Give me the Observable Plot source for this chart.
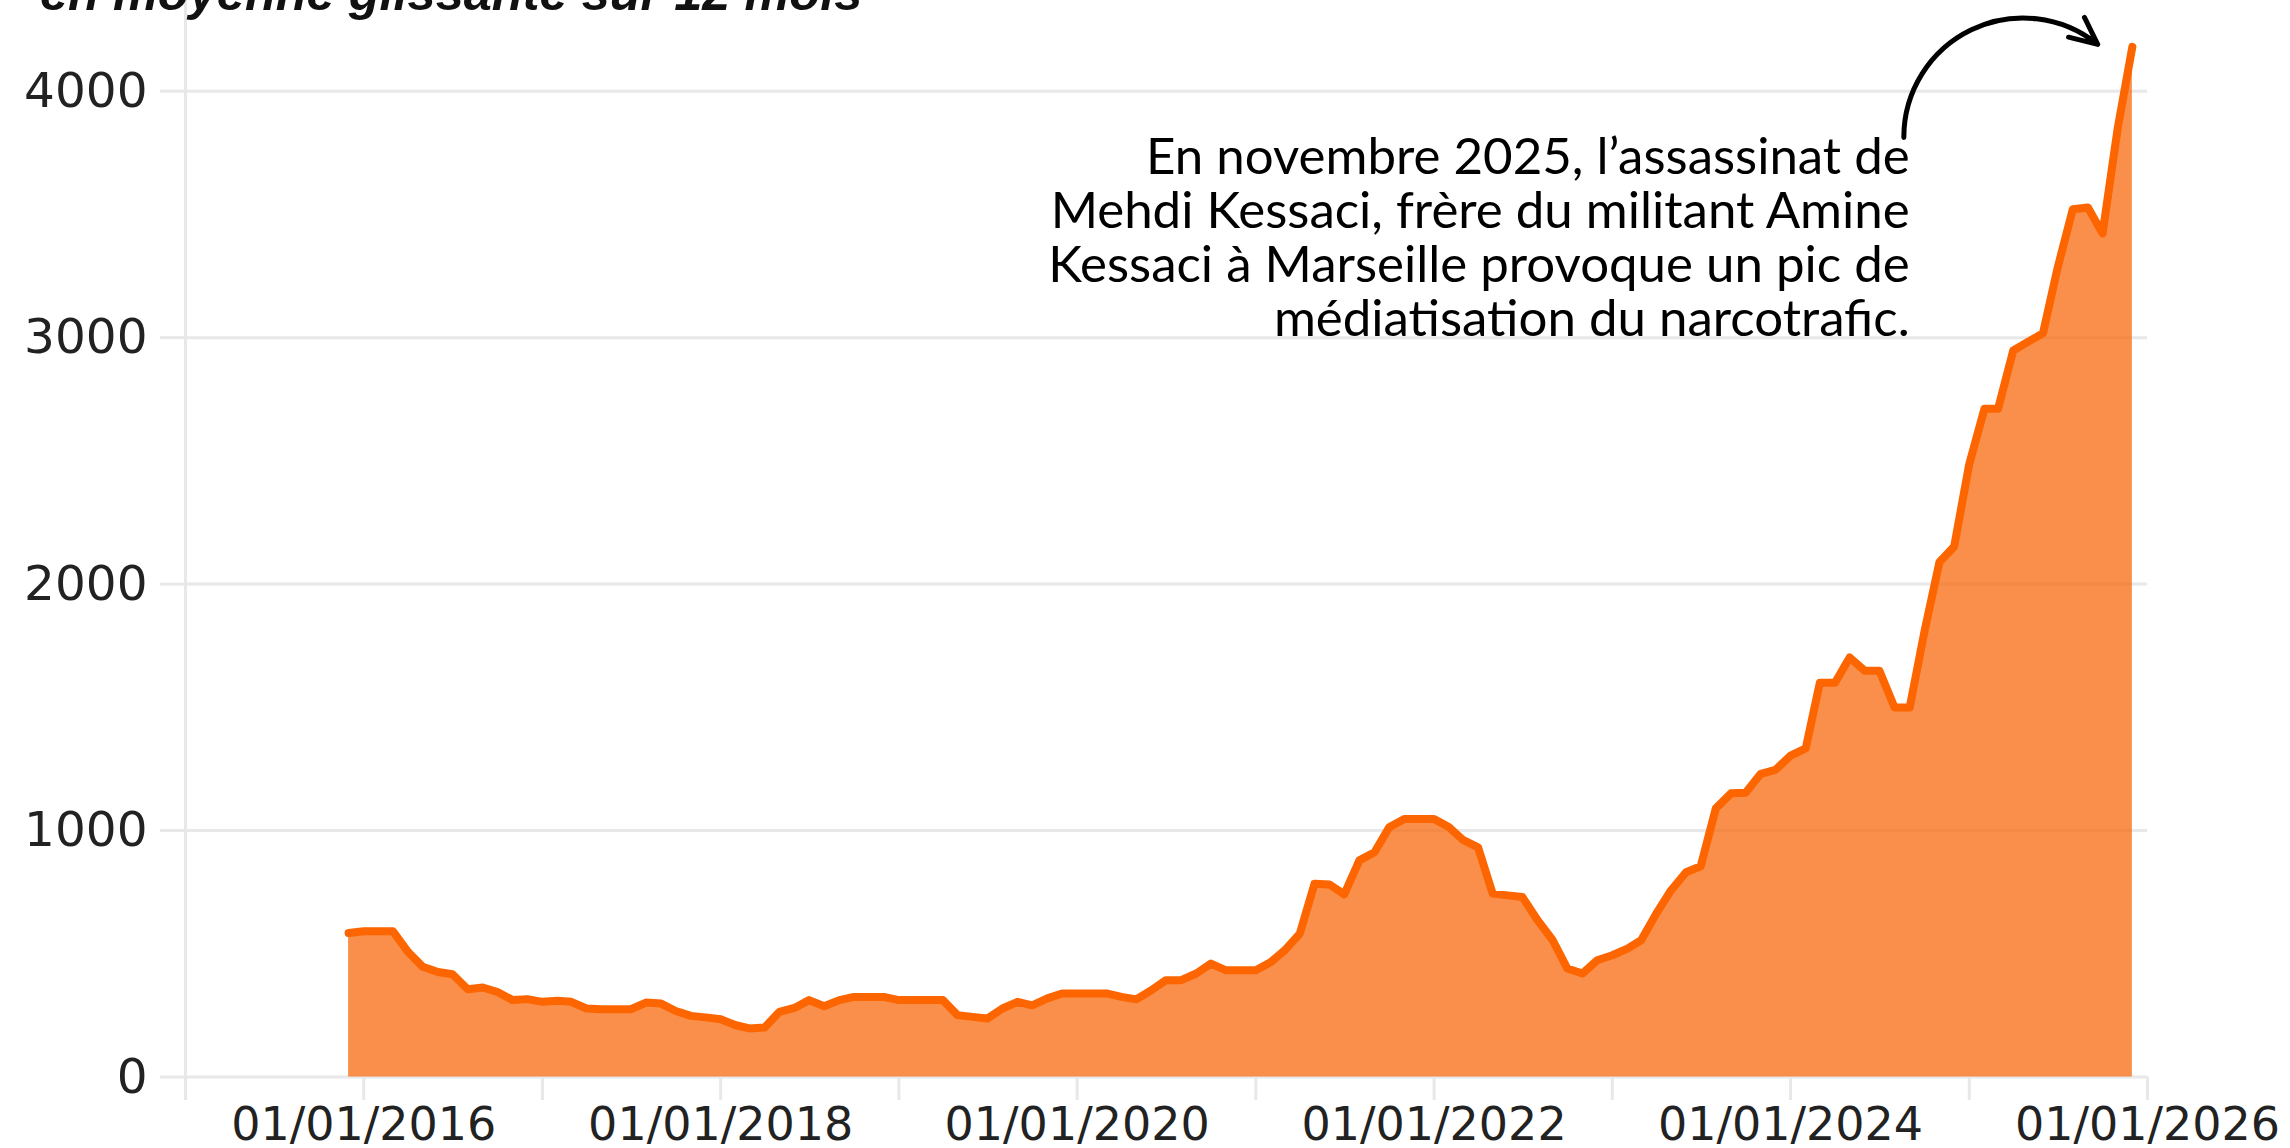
<!DOCTYPE html>
<html>
<head>
<meta charset="utf-8">
<script src="https://cdn.jsdelivr.net/npm/d3@7"></script>
<script src="https://cdn.jsdelivr.net/npm/@observablehq/plot@0.6"></script>
<style>
  html, body { margin: 0; padding: 0; background: #fff; }
  #wrap { position: relative; width: 2290px; height: 1148px; overflow: hidden; }
  #sub { position: absolute; left: 40px; top: -32px; font: italic bold 50.5px "Liberation Sans", Arial, sans-serif;
         line-height: 50px; color: #111; white-space: nowrap; }
  #chart { position: absolute; left: 0; top: 0; }
</style>
</head>
<body>
<div id="wrap">
  <div id="chart"></div>
  <div id="sub">en moyenne glissante sur 12 mois</div>
</div>
<script>
// ---- data (monthly, 12-month rolling average) ----
const firstMonth = "2015-12-01";
const values = [
  584,                                                     // 2015-12
  591, 591, 591, 507, 447, 426, 417, 356, 363, 345, 312, 316, // 2016
  305, 309, 305, 278, 275, 275, 275, 302, 298, 268, 248, 242, // 2017
  234, 210, 197, 201, 264, 280, 312, 287, 312, 325, 325, 325, // 2018
  312, 312, 312, 312, 251, 244, 237, 278, 305, 291, 319, 339, // 2019
  339, 339, 339, 325, 315, 352, 393, 393, 420, 460, 433, 433, // 2020
  433, 467, 514, 582, 784, 781, 741, 879, 912, 1013, 1047, 1047, // 2021
  1047, 1013, 962, 932, 744, 737, 730, 636, 555, 440, 420, 474, // 2022
  494, 521, 555, 663, 757, 831, 855, 1090, 1151, 1153, 1230, 1246, // 2023
  1304, 1333, 1600, 1600, 1702, 1648, 1648, 1499, 1499, 1806, 2090, 2152, // 2024
  2487, 2711, 2711, 2948, 2983, 3018, 3284, 3521, 3528, 3423, 3850, 4180  // 2025
];
const yTicks = [0, 1000, 2000, 3000, 4000];
const xTickYears = [2015, 2016, 2017, 2018, 2019, 2020, 2021, 2022, 2023, 2024, 2025, 2026];
const xLabelYears = [2016, 2018, 2020, 2022, 2024, 2026];
const annotationLines = [
  "En novembre 2025, l’assassinat de",
  "Mehdi Kessaci, frère du militant Amine",
  "Kessaci à Marseille provoque un pic de",
  "médiatisation du narcotrafic."
];

// ---- build table ----
const start = new Date(firstMonth + "T00:00:00Z");
const data = values.map((v, i) => ({date: d3.utcMonth.offset(start, i), value: v}));
const tickDates = xTickYears.map(y => new Date(Date.UTC(y, 0, 1)));
const fmtTick = d => xLabelYears.includes(d.getUTCFullYear()) ? `01/01/${d.getUTCFullYear()}` : "";

const note = [{date: new Date(Date.UTC(2024, 8, 1)), value: 3821, text: annotationLines.join("\n")}];
const arrow = [{x1: new Date(Date.UTC(2024, 7, 20)), y1: 3812, x2: new Date(Date.UTC(2025, 8, 21)), y2: 4190}];

const grid = "#e8e8e8";
const chart = Plot.plot({
  width: 2290,
  height: 1148,
  marginLeft: 185,
  marginRight: 143,
  marginTop: 0,
  marginBottom: 71.5,
  style: {fontFamily: "'DejaVu Sans', sans-serif", fontSize: "46px", background: "transparent", overflow: "visible"},
  x: {type: "utc", domain: [new Date(Date.UTC(2015, 0, 1)), new Date(Date.UTC(2026, 0, 1))]},
  y: {domain: [0, 4368]},
  marks: [
    Plot.gridY(yTicks, {stroke: grid, strokeOpacity: 1, strokeWidth: 3}),
    Plot.ruleX([tickDates[0]], {stroke: grid, strokeWidth: 3}),
    Plot.axisY(yTicks, {tickSize: 25, tickPadding: 13, stroke: grid, strokeWidth: 3, color: "#222",
      tickFormat: d3.format("d"), fontSize: 48.5, label: null}),
    Plot.axisX(tickDates, {tickSize: 23.5, tickPadding: 7, stroke: grid, strokeWidth: 3, color: "#222",
      tickFormat: fmtTick, fontSize: 46, label: null}),
    Plot.areaY(data, {x: "date", y: "value", fill: "#F76A0D", fillOpacity: 0.75}),
    Plot.lineY(data, {x: "date", y: "value", stroke: "#FC6500", strokeWidth: 8, strokeLinejoin: "round"}),
    Plot.text(note, {x: "date", y: "value", text: "text", textAnchor: "end", lineAnchor: "top",
      lineHeight: 1.059, fontSize: 51, fontFamily: "Lato", fill: "#000"}),
    Plot.arrow(arrow, {x1: "x1", y1: "y1", x2: "x2", y2: "y2", bend: 64.5, stroke: "#000",
      strokeWidth: 5, headLength: 9, headAngle: 50})
  ]
});
document.getElementById("chart").appendChild(chart);
</script>
</body>
</html>
